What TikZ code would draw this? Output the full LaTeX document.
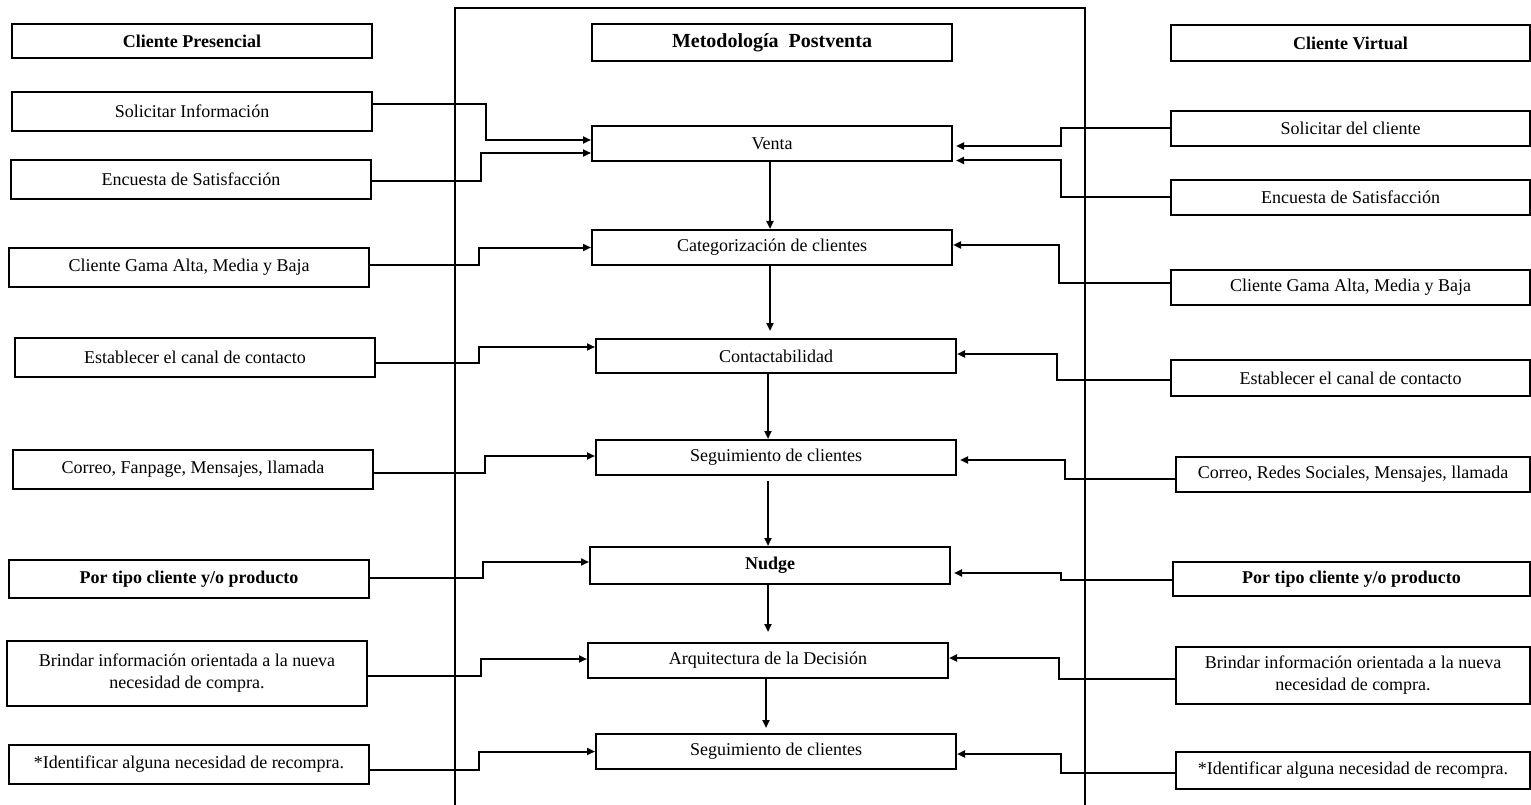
\documentclass[tikz,border=0pt]{standalone}
\usepackage{fontspec}
\setmainfont{Liberation Serif}
\usetikzlibrary{arrows.meta,calc}
\begin{document}
\begin{tikzpicture}[x=1pt,y=-1pt,
  box/.style={draw, line width=2pt, inner sep=0pt, align=center,
    font=\fontsize{18}{22}\selectfont, minimum width=360pt, minimum height=35pt},
  bbox/.style={box, font=\fontsize{18}{22}\selectfont\bfseries},
  arr/.style={line width=2pt, -{Triangle[length=8pt,width=7pt]}},
  frame/.style={line width=1.5pt}]
\useasboundingbox (0,0) rectangle (1531,805);
% frame
\draw[frame] (455,805) -- (455,8) -- (1085,8) -- (1085,805);
% left column
\node[bbox, minimum height=34pt] (L0) at (192,41) {Cliente Presencial};
\node[box, minimum height=39pt] (L1) at (192,111.5) {Solicitar Información};
\node[box, minimum height=39pt] (L2) at (191,179.5) {Encuesta de Satisfacción};
\node[box, minimum height=39pt] (L3) at (189,267.5) {Cliente Gama Alta, Media y Baja};
\node[box, minimum height=39pt] (L4) at (195,357.5) {Establecer el canal de contacto};
\node[box, minimum height=39pt] (L5) at (193,469.5) {Correo, Fanpage, Mensajes, llamada};
\node[bbox, minimum height=38pt] (L6) at (189,579) {Por tipo cliente y/o producto};
\node[box, minimum height=65pt] (L7) at (187,673.5) {Brindar información orientada a la nueva\\necesidad de compra.};
\node[box, minimum height=39pt] (L8) at (189,764.5) {*Identificar alguna necesidad de recompra.};
% center column
\node[bbox, minimum height=37pt, font=\fontsize{20}{24}\selectfont\bfseries] (C0) at (772,42.5) {Metodología\ \ Postventa};
\node[box] (C1) at (772,143.5) {Venta};
\node[box] (C2) at (772,247.5) {Categorización de clientes};
\node[box, minimum height=34pt] (C3) at (776,356) {Contactabilidad};
\node[box] (C4) at (776,457.5) {Seguimiento de clientes};
\node[bbox, minimum height=37pt] (C5) at (770,565.5) {Nudge};
\node[box] (C6) at (768,660.5) {Arquitectura de la Decisión};
\node[box] (C7) at (776,751.5) {Seguimiento de clientes};
% right column
\node[bbox, minimum width=359pt, minimum height=36pt] (R0) at (1350.5,43) {Cliente Virtual};
\node[box, minimum width=359pt] (R1) at (1350.5,128.5) {Solicitar del cliente};
\node[box, minimum width=359pt] (R2) at (1350.5,197.5) {Encuesta de Satisfacción};
\node[box, minimum width=359pt] (R3) at (1350.5,287.5) {Cliente Gama Alta, Media y Baja};
\node[box, minimum width=359pt, minimum height=36pt] (R4) at (1350.5,378) {Establecer el canal de contacto};
\node[box, minimum width=354pt] (R5) at (1353,474.5) {Correo, Redes Sociales, Mensajes, llamada};
\node[bbox, minimum width=357pt, minimum height=34pt] (R6) at (1351.5,579) {Por tipo cliente y/o producto};
\node[box, minimum width=354pt, minimum height=57pt] (R7) at (1353,675.5) {Brindar información orientada a la nueva\\necesidad de compra.};
\node[box, minimum width=354pt, minimum height=37pt] (R8) at (1353,770.5) {*Identificar alguna necesidad de recompra.};
% left connectors
\draw[arr] ([yshift=7.5pt]L1.east) -- ++(113,0) |- ([yshift=3.5pt]C1.west);
\draw[arr] ([yshift=-1.5pt]L2.east) -- ++(109,0) |- ([yshift=-9.5pt]C1.west);
\draw[arr] ([yshift=2.5pt]L3.east) -- ++(109,0) |- (C2.west);
\draw[arr] ([yshift=-5.5pt]L4.east) -- ++(103,0) |- ([yshift=9pt]C3.west);
\draw[arr] ([yshift=-3.5pt]L5.east) -- ++(111,0) |- ([yshift=1.5pt]C4.west);
\draw[arr] ([yshift=1pt]L6.east) -- ++(113,0) |- ([yshift=3.5pt]C5.west);
\draw[arr] ([yshift=-2.5pt]L7.east) -- ++(113,0) |- ([yshift=1.5pt]C6.west);
\draw[arr] ([yshift=-5.5pt]L8.east) -- ++(109,0) |- (C7.west);
% right connectors
\draw[arr] (R1.west) -- ++(-109,0) |- ([yshift=-2.5pt,xshift=3pt]C1.east);
\draw[arr] (R2.west) -- ++(-109,0) |- ([yshift=-17pt,xshift=3pt]C1.east);
\draw[arr] ([yshift=4.5pt]R3.west) -- ++(-111,0) |- ([yshift=2.5pt]C2.east);
\draw[arr] ([yshift=-2pt]R4.west) -- ++(-113,0) |- ([yshift=2pt]C3.east);
\draw[arr] ([yshift=-4.5pt]R5.west) -- ++(-110,0) |- ([yshift=-2.5pt,xshift=3pt]C4.east);
\draw[arr] ([yshift=-1pt]R6.west) -- ++(-111,0) |- ([yshift=-7.5pt,xshift=3pt]C5.east);
\draw[arr] ([yshift=-3.5pt]R7.west) -- ++(-116,0) |- ([yshift=2.5pt]C6.east);
\draw[arr] ([yshift=-2.5pt]R8.west) -- ++(-114,0) |- ([yshift=-2.5pt]C7.east);
% center flow
\draw[arr] ([xshift=-2pt]C1.south) -- ([xshift=-2pt]C1.south |- C2.north);
\draw[arr, shorten >=7pt] ([xshift=-2pt]C2.south) -- ([xshift=-2pt]C2.south |- C3.north);
\draw[arr] ([xshift=-8pt]C3.south) -- ([xshift=-8pt]C3.south |- C4.north);
\draw[arr, shorten <=5pt] ([xshift=-8pt]C4.south) -- ([xshift=-8pt]C4.south |- C5.north);
\draw[arr, shorten >=10pt] ([xshift=-2pt]C5.south) -- ([xshift=-2pt]C5.south |- C6.north);
\draw[arr, shorten >=5pt] ([xshift=-2pt]C6.south) -- ([xshift=-2pt]C6.south |- C7.north);
\end{tikzpicture}
\end{document}
